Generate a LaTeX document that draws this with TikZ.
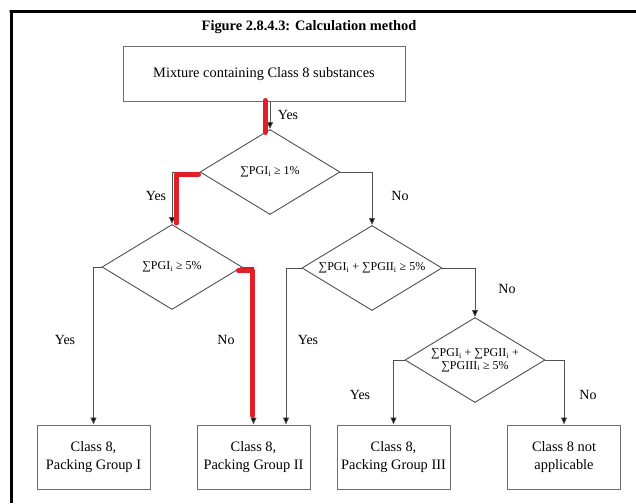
\documentclass[tikz,border=0pt]{standalone}
\usepackage{fontspec}
\setmainfont{Liberation Serif}
\usetikzlibrary{shapes.geometric,arrows.meta,calc}
\definecolor{linegray}{RGB}{80,80,80}
\definecolor{boxgray}{RGB}{110,110,110}
\definecolor{hired}{RGB}{226,30,38}
\tikzset{
  flowbox/.style={draw=boxgray, line width=1pt, minimum width=113pt, minimum height=64pt, inner sep=0pt, align=center, font=\fontsize{14.4pt}{18pt}\selectfont},
  topbox/.style={flowbox, minimum width=282pt, minimum height=54pt},
  dia/.style={draw=linegray, line width=0.9pt, shape=diamond, minimum width=140pt, minimum height=85pt, inner sep=0pt, font=\fontsize{12pt}{14.5pt}\selectfont},
  arr/.style={draw=linegray, line width=0.9pt, -{Triangle[length=7pt,width=6pt,fill=black]}},
  redpath/.style={draw=hired, line width=5pt, line cap=round, line join=round},
  lbl/.style={font=\fontsize{14pt}{16pt}\selectfont, inner sep=0pt},
  frameline/.style={draw=black, line width=3pt}
}
\begin{document}
\begin{tikzpicture}[x=1pt,y=-1pt]
\useasboundingbox (0,0) rectangle (636,503);
% frame
\coordinate (fa) at (9.5,12);
\coordinate (fb) at (636,12);
\coordinate (fc) at (11,503);
\draw[frameline] (fb) -- (fa) -- (11,12) -- (fc);
% title
\node[font=\bfseries\fontsize{14.4pt}{17pt}\selectfont] (title) at (309,27) {Figure 2.8.4.3: Calculation method};
% nodes
\node[topbox] (m) at (264,74) {Mixture containing Class 8 substances};
\node[dia] (d1) at (270,172) {\makebox[0pt]{∑PGI\textsubscript{i} ≥ 1\%}};
\node[dia] (d2) at (172,267) {\makebox[0pt]{∑PGI\textsubscript{i} ≥ 5\%}};
\node[dia] (d3) at (372,268) {\makebox[0pt]{∑PGI\textsubscript{i} + ∑PGII\textsubscript{i} ≥ 5\%}};
\node[dia] (d4) at (475,360) {\makebox[0pt]{\begin{tabular}{@{}c@{}}∑PGI\textsubscript{i} + ∑PGII\textsubscript{i} +\\[-2pt] ∑PGIII\textsubscript{i} ≥ 5\%\end{tabular}}};
\node[flowbox] (b1) at (93.5,457) {Class 8,\\Packing Group I};
\node[flowbox] (b2) at (253.5,457) {Class 8,\\Packing Group II};
\node[flowbox] (b3) at (393.5,457) {Class 8,\\Packing Group III};
\node[flowbox] (b4) at (564,457) {Class 8 not\\applicable};
% connectors
\draw[arr] (m.south -| d1.north) -- (d1.north);
\draw[arr] (d1.west) -| (d2.north);
\draw[arr] (d1.east) -| (d3.north);
\draw[arr] (d2.west) -| (b1.north);
\draw[arr] (d2.east) -| (b2.north);
\draw[arr] (d3.west) -| ($(b2.north)+(32.5,0)$);
\draw[arr] (d3.east) -| (d4.north);
\draw[arr] (d4.west) -| (b3.north);
\draw[arr] (d4.east) -| (b4.north);
% highlighted path
\draw[redpath] ($(m.south)+(1,-1)$) -- ($(m.south)+(1,31)$);
\draw[redpath] ($(d1.west)+(-1,2.5)$) -| ($(d2.north)+(4,-1)$);
\draw[redpath] ($(d2.east)+(-4,3.5)$) -| ($(b2.north)+(-1,-9)$);
% labels
\node[lbl] (y0) at (288,115) {Yes};
\node[lbl] (y1) at (156,196) {Yes};
\node[lbl] (n1) at (400,196) {No};
\node[lbl] (y2) at (65,340) {Yes};
\node[lbl] (n2) at (226,340) {No};
\node[lbl] (y3) at (308,340) {Yes};
\node[lbl] (n3) at (507,289) {No};
\node[lbl] (y4) at (360,395) {Yes};
\node[lbl] (n4) at (588,395) {No};
\end{tikzpicture}
\end{document}
